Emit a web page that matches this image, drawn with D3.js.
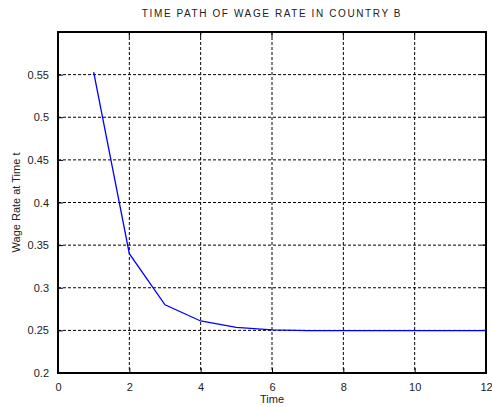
<!DOCTYPE html>
<html><head><meta charset="utf-8">
<script src="https://cdn.jsdelivr.net/npm/d3@7"></script>
<style>body{margin:0;background:#fff}svg{display:block}text{font-family:"Liberation Sans",Arial,sans-serif}</style>
</head><body>
<script>
const times = [1,2,3,4,5,6,7,8,9,10,11,12];
const wages = [0.553,0.340,0.280,0.261,0.2535,0.2505,0.2498,0.2497,0.2497,0.2497,0.2497,0.2497];
const xTicks = [0,2,4,6,8,10,12];
const yTicks = [0.2,0.25,0.3,0.35,0.4,0.45,0.5,0.55];
const title = "TIME PATH OF WAGE RATE IN COUNTRY B";
const xLabel = "Time", yLabel = "Wage Rate at Time t";

const W=492,H=407, m={l:58,r:6,t:32,b:34};
const svg=d3.select("body").append("svg").attr("width",W).attr("height",H);
const x=d3.scaleLinear().domain([0,12]).range([m.l,W-m.r]);
const y=d3.scaleLinear().domain([0.2,0.6]).range([H-m.b,m.t]);
const pw=W-m.l-m.r, ph=H-m.t-m.b;

// grid
svg.append("g").selectAll("line").data(xTicks.slice(1,-1)).join("line")
 .attr("x1",d=>x(d)).attr("x2",d=>x(d)).attr("y1",m.t).attr("y2",H-m.b)
 .attr("stroke","#000").attr("stroke-width",1).attr("stroke-dasharray","3,2");
svg.append("g").selectAll("line").data(yTicks.slice(1)).join("line")
 .attr("x1",m.l).attr("x2",W-m.r).attr("y1",d=>y(d)).attr("y2",d=>y(d))
 .attr("stroke","#000").attr("stroke-width",1).attr("stroke-dasharray","3,2");

// axes
const xa=svg.append("g").attr("transform",`translate(0,${H-m.b})`)
 .call(d3.axisBottom(x).tickValues(xTicks).tickSize(-5).tickPadding(10).tickFormat(d3.format("d")));
const ya=svg.append("g").attr("transform",`translate(${m.l},0)`)
 .call(d3.axisLeft(y).tickValues(yTicks).tickSize(-5).tickPadding(9).tickFormat(d=>String(+d.toFixed(2))));
[xa,ya].forEach(a=>{a.select(".domain").remove();a.selectAll("text").attr("font-size",11).attr("fill","#222").attr("font-family","Liberation Sans, Arial, sans-serif");a.selectAll("line").attr("stroke","#000")});
// right ticks and top ticks
svg.append("g").selectAll("line").data(yTicks).join("line")
 .attr("x1",W-m.r).attr("x2",W-m.r-5).attr("y1",d=>y(d)).attr("y2",d=>y(d)).attr("stroke","#000");
svg.append("g").selectAll("line").data(xTicks).join("line")
 .attr("x1",d=>x(d)).attr("x2",d=>x(d)).attr("y1",m.t).attr("y2",m.t+5).attr("stroke","#000");

// box
svg.append("rect").attr("x",m.l).attr("y",m.t).attr("width",pw).attr("height",ph)
 .attr("fill","none").attr("stroke","#000").attr("stroke-width",2);

// line
svg.append("path").datum(times.map((t,i)=>[t,wages[i]]))
 .attr("d",d3.line().x(d=>x(d[0])).y(d=>y(d[1])))
 .attr("fill","none").attr("stroke","#0000ff").attr("stroke-width",1.3);

svg.append("text").attr("x",x(6)).attr("y",17).attr("text-anchor","middle")
 .attr("font-size",10).attr("letter-spacing",1.6).attr("fill","#222").text(title);
svg.append("text").attr("x",x(6)).attr("y",403).attr("text-anchor","middle")
 .attr("font-size",11).attr("fill","#222").text(xLabel);
svg.append("text").attr("transform",`translate(20,${(m.t+H-m.b)/2}) rotate(-90)`).attr("text-anchor","middle")
 .attr("font-size",11).attr("fill","#222").text(yLabel);
</script>
</body></html>
